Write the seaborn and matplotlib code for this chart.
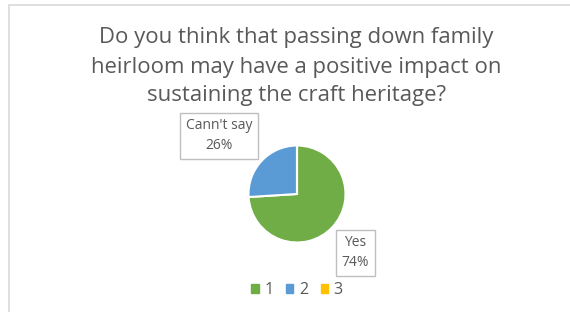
"""Pie chart: passing down family heirloom and craft heritage."""

import matplotlib.pyplot as plt
from matplotlib.lines import Line2D
from matplotlib.patches import Rectangle
import seaborn as sns

sns.set_theme(style="white")
plt.rcParams["font.family"] = ["Open Sans", "DejaVu Sans"]

# Data
categorias = ["Yes", "Cann't say", ""]
valores = [74, 26, 0]
legenda = ["1", "2", "3"]
CORES = ["#70AD47", "#5B9BD5", "#FFC000"]
TEXTO = "#595959"

titulo = ("Do you think that passing down family\n"
          "heirloom may have a positive impact on\n"
          "sustaining the craft heritage?")

fig = plt.figure(figsize=(5.70, 3.12), dpi=100)
fig.patch.set_facecolor("white")

# chart area border (top and left visible)
fig.add_artist(Line2D([9 / 570, 9 / 570], [0, 1 - 5 / 312],
                      color="#d9d9d9", lw=1.2))
fig.add_artist(Line2D([9 / 570, 1], [1 - 5 / 312, 1 - 5 / 312],
                      color="#d9d9d9", lw=1.2))

fig.text(0.520, 1 - 67 / 312, titulo, ha="center", va="center",
         fontsize=15.9, color=TEXTO, linespacing=1.5)

ax = fig.add_axes([248.5 / 570, 1 - 242.5 / 312, 97 / 570, 97 / 312])
wedges, _ = ax.pie(valores, colors=CORES, startangle=90, counterclock=False,
                   radius=1, wedgeprops={"edgecolor": "white", "linewidth": 1.5})
ax.set_xlim(-1, 1)
ax.set_ylim(-1, 1)
ax.set_aspect("equal")
ax.axis("off")

# data label boxes
pos_rotulos = [(1.20, -1.21), (-1.61, 1.20)]
for (x, y), cat, val in zip(pos_rotulos, categorias, valores):
    ax.text(x, y, f"{cat}\n{val}%", ha="center", va="center", fontsize=10,
            color=TEXTO, linespacing=1.45, clip_on=False,
            bbox=dict(boxstyle="square,pad=0.4", fc="white", ec="#bfbfbf", lw=1))

handles = [Rectangle((0, 0), 1, 1, color=c) for c in CORES]
fig.legend(handles, legenda, loc="center", bbox_to_anchor=(297 / 570, 1 - 290 / 312),
           ncol=3, frameon=False, fontsize=11.5, handlelength=0.45, handleheight=0.45,
           handletextpad=0.35, columnspacing=0.8, labelcolor=TEXTO)

fig.savefig("out.png", dpi=100)
